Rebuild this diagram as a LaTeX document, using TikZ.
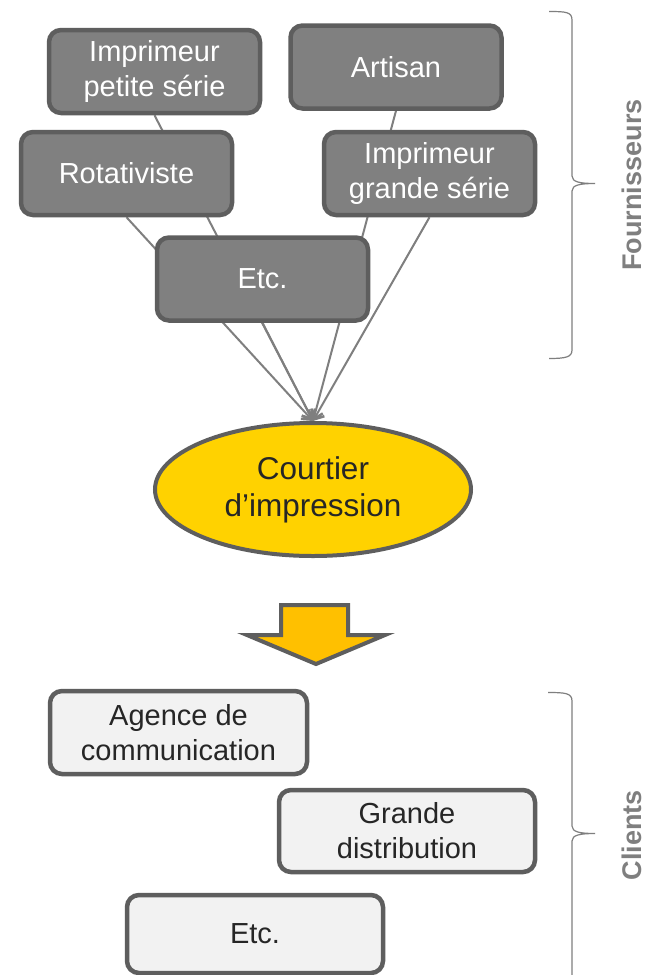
\documentclass[tikz,border=0pt]{standalone}
\usepackage{fontspec}
\setmainfont{Liberation Sans}
\usetikzlibrary{shapes.geometric,arrows.meta,backgrounds}
\definecolor{boxfill}{HTML}{808080}
\definecolor{boxline}{HTML}{5E5E5E}
\definecolor{lightfill}{HTML}{F2F2F2}
\definecolor{goldfill}{HTML}{FFD200}
\definecolor{amberfill}{HTML}{FFC000}
\definecolor{conngray}{HTML}{7F7F7F}
\definecolor{darktext}{HTML}{262626}
\begin{document}
\begin{tikzpicture}[x=1pt,y=-1pt,
 darkbox/.style={draw=boxline, line width=4.5pt, fill=boxfill, rounded corners=12pt,
   minimum width=211pt, minimum height=83pt, text=white, align=center, inner sep=0pt,
   font=\fontsize{29}{35}\selectfont},
 lightbox/.style={draw=boxline, line width=4.5pt, fill=lightfill, rounded corners=12pt,
   minimum width=256pt, minimum height=82pt, text=darktext, align=center, inner sep=0pt,
   font=\fontsize{29}{35}\selectfont},
 connline/.style={draw=conngray, line width=2pt, -{Straight Barb[length=8pt,width=15pt,line width=2.5pt]}},
 bracepath/.style={draw=conngray, line width=1.2pt},
 grouplabel/.style={rotate=90, text=conngray, inner sep=0pt,
   font=\fontsize{27}{30}\selectfont\bfseries}
]
\useasboundingbox (0,0) rectangle (646,975);

% supplier boxes
\node[darkbox] (ps)  at (154.5,71.5) {Imprimeur\\petite série};
\node[darkbox] (art) at (396,67)     {Artisan};
\node[darkbox] (rot) at (126.5,173.5){Rotativiste};
\node[darkbox] (gs)  at (429.5,173.5){Imprimeur\\grande série};
\node[darkbox] (etc) at (262.5,279)  {Etc.};

% broker
\node[ellipse, draw=boxline, line width=4pt, fill=goldfill, minimum width=316pt,
  minimum height=133pt, inner sep=0pt, align=center, text=darktext,
  font=\fontsize{31.5}{37}\selectfont] (court) at (313,489.5) {Courtier\\d’impression};

% connectors behind the boxes
\begin{scope}[on background layer]
\fill[white] (0,0) rectangle (646,975);
\draw[connline] (ps.south)  -- (court.north);
\draw[connline] (art.south) -- (court.north);
\draw[connline] (rot.south) -- (court.north);
\draw[connline] (gs.south)  -- (court.north);
\draw[connline] (etc.south) -- (court.north);
\end{scope}

% big down arrow
\draw[draw=boxline, line width=4pt, fill=amberfill, line join=miter]
  (281,605) -- (348,605) -- (348,635) -- (385,635) -- (316,664) -- (247,635) -- (281,635) -- cycle;

% client boxes
\node[lightbox, minimum width=257pt, minimum height=83pt] (ag) at (178.5,732.5) {Agence de\\communication};
\node[lightbox] (gd) at (407,831) {Grande\\distribution};
\node[lightbox, minimum height=78pt] (cetc) at (255,934) {Etc.};

% braces
\draw[bracepath] (549,11.5) .. controls (566,11.5) and (572,12) .. (572,20) -- (572,176)
  .. controls (572,182) and (580,183.5) .. (595,183.5)
  .. controls (580,183.5) and (572,185) .. (572,191) -- (572,350)
  .. controls (572,357) and (566,358.5) .. (549,358.5);
\draw[bracepath] (548,692.5) .. controls (565,692.5) and (572,693) .. (572,701) -- (572,826)
  .. controls (572,832) and (580,833.5) .. (595,833.5)
  .. controls (580,833.5) and (572,835) .. (572,841) -- (572,985);

\node[grouplabel] (four) at (632,185) {Fournisseurs};
\node[grouplabel] (cli)  at (632,835) {Clients};
\end{tikzpicture}
\end{document}
